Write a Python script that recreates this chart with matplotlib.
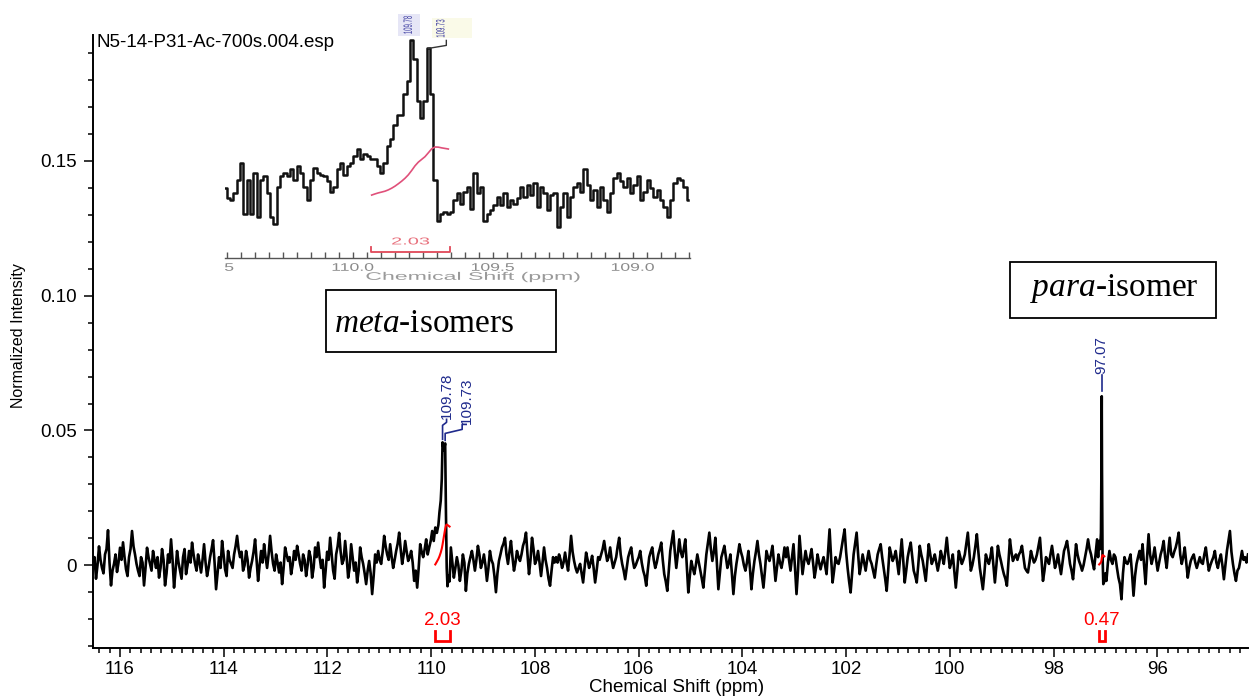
import numpy as np
import matplotlib
matplotlib.use("Agg")
import matplotlib.pyplot as plt
from matplotlib.lines import Line2D
from matplotlib.patches import Rectangle, PathPatch
from matplotlib.textpath import TextPath
from matplotlib.font_manager import FontProperties
from matplotlib.transforms import Affine2D, Bbox, blended_transform_factory
from matplotlib.ticker import MultipleLocator, NullFormatter

plt.rcParams['font.family'] = ['Liberation Sans', 'DejaVu Sans']
plt.rcParams['mathtext.fontset'] = 'custom'
plt.rcParams['mathtext.rm'] = 'Liberation Serif'
plt.rcParams['mathtext.it'] = 'Liberation Serif:italic'

# ---------------- spectrum data (intensity x 1e-3) ----------------
left_span = (116.52, 109.98)
base_left = [
    1.6, 3, -5, 0, 7, 2, -1, -3, 4, 6, 13, 1, -7.5, -2, 0.5, 4, -2.5, 1, 6.5, 2,
    8.5, 3, -1.5, -4, 3, 6, 12.7, 7, 4, 0.5, -2, -4, 3, 1, -7.5, -1, 6.5, 3, 0.5, -2,
    5.3, 2, -1, 3, -4.6, -1, 6, 2, -7.5, -3, 4, 1, 9.6, 2, -8.3, -2, 5.3, 1, -2, -5,
    3, 6, -3.3, 0, 5.3, 1, 8.4, 4, 0.5, -2, 4, 1, -2.7, 2, 7.8, 1, -4, -1, 3, 6,
    9.3, 1, -8.9, -3, 3, -1, 9, 4, -1.5, -4, 5.3, 2, 0.5, -1, 4, 7, 10.9, 6, 3, 5,
    -2, 0, 5.3, 2, -4.6, -1, 1.6, 5, 9.6, 2, -5.8, 0, 5.3, 1, 7.8, 3, -1, 4, 10.9, 5,
    0.5, -2, 4, 1, -2.7, 1, -7, -1, 6.6, 4, 1.6, 3, -3.3, 0, 5.3, 2, 7.2, 4, 0.5, -2,
    4, 2, -4, 0, 5.3, 3, -4.6, -1, 6.6, 3, 8.4, 3, -1, 2, -8.3, -2,
    5, 2, 10.2, 4, -2, -5, 4, 7, 12, 5, 0.5, 2, 9, 3, -4.6, -1, 7.8, 3, -2, 1,
    -6.4, -2, 6.6, 3, 0.5, -3, -7, -2, 1.6, -3, -10.7, -4, 4, 1, 5.3, 2, 0.5, 5, 10.9, 7,
    4, 2, 7.8, 3, -1, 2, 5.3, 8, 12.1, 6, 0.5, 4, 9, 5, 1.6, 3, 5.3, 1, -5.8, -2,
    -8.3, -1, 7.8, 5, 3, 6, 9.6, 4, 6.6, 9, 12.7,
]

meta_ppm = [109.95, 109.92, 109.89, 109.86, 109.84, 109.815, 109.795, 109.78,
            109.755, 109.73, 109.715, 109.70, 109.685, 109.665, 109.645]
meta_int = [9, 14, 12, 15, 19.6, 24, 32, 45.6, 42.5, 45.2, 20, -1, -7.8, -4, -6]

mid_span = (109.62, 97.16)
base_mid = [
    6.6, 1, -4.6, -1, 3, 0, -5.8, -2, 4, 1, -9.5, -3, 0.5, 3, 5.3, 2, -2, 2, 7.2, 4,
    -1, 1, 4, 0, -5.8, -1, 5.3, 2, 0.5, -4, -10, -3, 1.6, 4, 6.6, 8, 10.2, 4, 0.5, 5,
    9, 3, -2, 1, 5.3, 3, 1.6, 4, 7.2, 9, 12.1, 4, -3.3, 2, 10.2, 6, 0.5, 2, 5.3, 1,
    -4, 1, 6.6, 2, -1, -5, -7.6, -2, 3, 1,
    3, 1, 4, 2, -1, 1, 4.7, 1, -2, 4, 10.9, 5, 1.6, -1, -2.7, -1, 0.5, -3, -6.4, -1,
    4.7, 2, -1, 1, 3.5, -1, -6.4, -2, 3, 2, 4, 6, 9, 5, 1.6, 3, 6.6, 2, -1, 1,
    3, 7, 10.2, 4, 0.5, -2, -5.2, -1, 3, 5, 6.6, 2, -1, 0, 1.6, 3, 5.3, 1, -2, -4,
    -7.6, -2, 3, 5, 6.6, 2, -1, 1, 4, 6, 8.4, 2, -3.3, -6, -9.5, -2, 5.3, 9, 12.7, 5,
    -1, 4, 9.6, 5, 3, 6, 9.6, 0, -10.1, -4, 1.6, -1, -3.3, 0, 4, 1, -2, -5, -8.3, -2,
    4, 8, 12.1, 6, 1.6, 5, 10.2, 1, -8.9, -3, 3, 5, 7.2, 3, -1, 1, 4, -3, -10.7, -4,
    0.5, 4, 7.8, 5, 3, 0, -2, 1, 5.3, -1, -8.9, -3, 1.6, 5, 9, 4, 0.5, -4, -8.3, -2,
    5.3, 3, 1.6, 4, 7.2, 1, -5.8, -1, 4, 1, -1, 2, 6.6, 3,
    6.6, 2, -2, 3, 7.8, -1, -10.7, -2, 10.9, 4, -3.3, 1, 5.3, 2, 0.5, 3, 6, 1, -4.6, -1,
    4, 1, -1.5, 1, 3, 0, -3.3, 5, 13.3, 3, -6.4, -2, 3, 1, 0.5, 3, 6.6, 10, 13.3, 5,
    -1, -6, -10.1, -3, 4, 8, 12.1, 4, -3.3, 0, 4, 1, -2, 2, 5.3, 2, 0.5, -2, -4.6, 0,
    4, 6, 7.8, 3, -1, -5, -9.5, -2, 6.6, 4, 1.6, 3, 5.3, 1, -3.3, 3, 9.6, 2, -6.4, -2,
    3, 6, 8.4, 3, -2, -4, -6.4, 0, 7.2, 4, 1.6, -2, -5.8, 1, 7.8, 4, 0.5, 2, 4, 1,
    -2, 1, 5.3, 3, 0.5, 5, 10.2, 4, -1, 1, 4, -2, -8.3, -2, 5.3, 3, 0.5, 2, 4, 8,
    12.1, 5, -2, 0, 3, 7, 11.5, 5, -1, -5, -8.9, -3, 4, 2, 0.5, 3, 6.6, 0, -6.4, 0,
    7.2, 4, 1.6, -1, -3.3, -5, -7.6, 1, 9.6, 5, 1.6, 3, 4, 2,
    4, 5, 7.2, 3, -1, -2, -2.7, 1, 5.3, 3, 1, 2, 4, 7, 10.2, 2, -5.8, -2, 3, 2,
    0.5, 4, 7.2, 3, -1, 1, 4, 0, -3.3, 1, 5.3, 7, 9, 5, 0.5, -2, -5.2, 1, 7.8, 4,
    1.6, 0, -2, 0, 3, 6, 9.6, 6, 4, 1, -1.5, 4, 9.6,
]

para_ppm = [97.14, 97.12, 97.10, 97.085, 97.075, 97.07, 97.065, 97.055, 97.04, 97.02, 97.00]
para_int = [3, 9, 6, 12, 40, 62.7, 35, 4, -7, -6, -3]

right_span = (96.98, 94.25)
base_right = [
    -5.8, 1, 5.3, 2, 0.5, 4, 3, -1, -4.6, -7, -12.6, -3, 3, 1, 0.5, 2, 4, -3, -11.3, -4,
    0.5, 3, 5.3, 2, 7.8, 0, -7, 3, 11.5, 4, 0.5, 3, 6.6, 2, -2, 1, 4, 6, 9, 3,
    -1, 5, 10.2, 4, 3, 5, 6.6, 9, 12.1, 4, 0.5, 3, 6.6, 1, -4.6, -1, 1.6, 3, 4, 1,
    -1, 1, 3, 1, 0.5, 4, 6.6, 2, -2, 0, 1.6, 3, 5.3, 1, -1, 2, 4, 0, -5.2, 0,
    5.3, 9, 12.7, 5, 0.5, -3, -5.8, -2, -1, 2, 5.3, 2, 3, 1, 4,
]

peak_shifts = [109.78, 109.73, 97.07]
integral_values = [2.03, 0.47]
integral_ranges = [(109.93, 109.64), (97.13, 97.01)]

# expanded view of the meta region (intensity x 1e-3)
inset_span = (110.457, 108.802)
inset_int = [
    2, -1, -1.5, 0.5, 4.5, 9.5, -5.5, 4.5, -5.5, 6.5,
    -6.5, 4.5, 5.5, 0.5, -6.5, -8.5, 2.5, 5.5, 6.5, 5.5,
    7.5, 4.5, 8.5, 6.5, 2.5, -1.5, 4.5, 8, 6.5, 6,
    5.5, 4, 1, 2.5, 7.5, 9.5, 6, 8.5, 9.5, 11.5,
    13.5, 10.5, 12, 11.5, 10.5, 10.5, 8.5, 6.5, 9.5, 14.5,
    16.5, 20.5, 23.5, 23.5, 29.5, 33.5, 45.5, 40, 27.5, 22.5,
    27.5, 43, 29.5, 4.5, -7.5, -5.5, -5, -5.5, -5, -1.5,
    0.5, -2.5, 1, 2.5, -4, 6.5, 0.5, 2.5, -7.5, -5.5,
    -4.5, -3, -0.5, -3, 0.5, -3.5, -1.5, -2.5, -1, 2.5,
    -0.5, 3, 0, 3.5, -3.5, 2.5, 0.5, -4.5, 0, 0.5,
    -9.5, -3.5, 0.5, -6.5, -0.5, 2.5, 3.5, 1, 7.5, 3,
    -1.5, 1.5, -3.5, 2.5, -1.5, -5, 0.5, 5, 6.5, 4,
    2.5, 5, 0.5, 3, 5.5, -1.5, 1, 4.5, 2, -0.5,
    1.5, -1.5, -3.5, -6.5, -1.5, 3.5, 5, 4.5, 2.5, -1.5,
]
inset_ticks = [110.5, 110.0, 109.5, 109.0]

# ---------------- figure ----------------
W, H = 1249, 698
NAVY = '#1f2a8c'
RED = '#ff0000'

fig = plt.figure(figsize=(W / 100, H / 100), dpi=100)
fig.patch.set_facecolor('white')

ax = fig.add_axes([93 / W, 50 / H, 1155 / W, 613 / H])
ax.set_xlim(116.52, 94.25)
ax.set_ylim(-0.0307, 0.1967)

ppm = np.concatenate([np.linspace(*left_span, len(base_left)), meta_ppm,
                      np.linspace(*mid_span, len(base_mid)), para_ppm,
                      np.linspace(*right_span, len(base_right))])
inten = np.concatenate([base_left, meta_int, base_mid, para_int, base_right]) * 1e-3
ax.plot(ppm, inten, color='black', lw=1.9)

for s in ('top', 'right'):
    ax.spines[s].set_visible(False)
for s in ('left', 'bottom'):
    ax.spines[s].set_linewidth(1.4)

ax.set_yticks([0, 0.05, 0.10, 0.15])
ax.set_yticklabels(['0', '0.05', '0.10', '0.15'])
ax.yaxis.set_minor_locator(MultipleLocator(0.01))
ax.set_xticks(np.arange(96, 117, 2))
ax.set_xticklabels([str(v) for v in range(96, 117, 2)])
ax.xaxis.set_minor_locator(MultipleLocator(0.2))
ax.tick_params(axis='both', which='major', length=6.5, width=1.1, labelsize=13.5)
ax.tick_params(axis='both', which='minor', length=3.8, width=1.1)
ax.tick_params(axis='y', pad=5)
ax.tick_params(axis='x', pad=3)

fig.text(677 / W, 1 - 688 / H, 'Chemical Shift (ppm)', fontsize=13.5,
         ha='center', va='center')
fig.text(19 / W, 1 - 336 / H, 'Normalized Intensity', fontsize=11.5, rotation=90,
         ha='center', va='center')
fig.text(96 / W, 1 - 47 / H, 'N5-14-P31-Ac-700s.004.esp', fontsize=13.5, va='baseline')

# integral curves, brackets and values
scale = 0.0148 / integral_values[0]


def integral_curve(x, y, rng, height):
    hi, lo = rng
    m = (x <= hi) & (x >= lo)
    xs, ys = x[m], y[m]
    area = np.concatenate([[0], np.cumsum(0.5 * (ys[1:] + ys[:-1]) * np.abs(np.diff(xs)))])
    return xs, area / area.max() * height


for val, rng in zip(integral_values, integral_ranges):
    xs, cv = integral_curve(ppm, inten, rng, val * scale)
    ax.plot(xs, cv + 0.0003, color=RED, lw=1.5)
    hi, lo = rng
    ax.plot([hi, hi, lo, lo], [-0.0244, -0.0282, -0.0282, -0.0244], color=RED, lw=2.0,
            solid_joinstyle='miter')
    ax.text((hi + lo) / 2, -0.0205, f'{val:.2f}', color=RED, fontsize=13.5,
            ha='center', va='center')


def leader(axis, anchor, offsets, color, lw=1.2):
    x0, y0 = axis.transData.transform(anchor)
    pts = np.array([(x0 + dx, y0 + dy) for dx, dy in offsets])
    f = fig.transFigure.inverted().transform(pts)
    fig.add_artist(Line2D(f[:, 0], f[:, 1], color=color, lw=lw, transform=fig.transFigure))


def peak_top(shift):
    m = np.abs(ppm - shift) < 0.012
    return inten[m].max()


# peak labels on the main spectrum
t1 = peak_top(peak_shifts[0])
t2 = peak_top(peak_shifts[1])
t3 = peak_top(peak_shifts[2])
leader(ax, (peak_shifts[0], t1), [(0, 3), (0, 17), (4, 20), (4, 23)], NAVY)
leader(ax, (peak_shifts[1], t2), [(0, 3), (0, 10), (17, 14), (17, 19), (21, 19)], NAVY)
ax.annotate(f'{peak_shifts[0]:.2f}', (peak_shifts[0], t1), xytext=(4, 23),
            textcoords='offset pixels', rotation=90, ha='center', va='bottom',
            color=NAVY, fontsize=11)
ax.annotate(f'{peak_shifts[1]:.2f}', (peak_shifts[1], t2), xytext=(22, 19),
            textcoords='offset pixels', rotation=90, ha='center', va='bottom',
            color=NAVY, fontsize=11)
leader(ax, (peak_shifts[2], t3), [(0, 5), (0, 21)], NAVY)
ax.annotate(f'{peak_shifts[2]:.2f}', (peak_shifts[2], t3), xytext=(0, 22),
            textcoords='offset pixels', rotation=90, ha='center', va='bottom',
            color=NAVY, fontsize=11)

# isomer boxes
for (x0, y0, x1, y1), txt, tx, ty in [((326, 290, 556, 352), r'$\mathit{meta}$-isomers', 334, 331.5),
                                      ((1010, 262, 1216, 318), r'$\mathit{para}$-isomer', 1030, 296)]:
    fig.add_artist(Rectangle((x0 / W, 1 - y1 / H), (x1 - x0) / W, (y1 - y0) / H,
                             transform=fig.transFigure, fc='white', ec='black', lw=1.3))
    fig.text(tx / W, 1 - ty / H, txt, fontsize=24, family='Liberation Serif', va='baseline')


# ---------------- expanded view ----------------
def path_text(x_px, y_px, s, size, sx=1.0, sy=1.0, rot=0, color='k', alpha=1.0, clip=None):
    tp = TextPath((0, 0), s, size=size, prop=FontProperties(family='Liberation Sans'))
    bb = tp.get_extents()
    tr = (Affine2D().translate(-(bb.x0 + bb.x1) / 2, -(bb.y0 + bb.y1) / 2)
          .scale(sx, sy).rotate_deg(rot).translate(x_px, H - y_px)
          .scale(1 / W, 1 / H) + fig.transFigure)
    p = PathPatch(tp, transform=tr, fc=color, ec='none', alpha=alpha)
    if clip is not None:
        p.set_clip_box(clip)
    fig.add_artist(p)


axi = fig.add_axes([225 / W, (H - 258) / H, 465 / W, 228 / H])
axi.set_facecolor('none')
axi.set_xlim(110.457, 108.796)
axi.set_ylim(-0.01845, 0.0484)
ippm = np.linspace(*inset_span, len(inset_int))
iint = np.array(inset_int) * 1e-3
axi.plot(ippm, iint, color='#111111', lw=1.8, drawstyle='steps-mid')
for s in ('top', 'right', 'left'):
    axi.spines[s].set_visible(False)
axi.spines['bottom'].set_color('#555555')
axi.spines['bottom'].set_linewidth(1.0)
axi.set_yticks([])
axi.xaxis.set_major_locator(MultipleLocator(0.5))
axi.xaxis.set_minor_locator(MultipleLocator(0.05))
axi.xaxis.set_major_formatter(NullFormatter())
axi.tick_params(axis='x', which='both', direction='in', length=4, width=1.0, color='#555555')

clip_box = Bbox.from_extents(225, 0, 690, H)
for t in inset_ticks:
    xp = axi.transData.transform((t, 0))[0]
    path_text(xp, 267, f'{t:.1f}', 11, sx=1.6, color='#8a8a8a', clip=clip_box)
path_text(473, 277, 'Chemical Shift (ppm)', 11, sx=2.1, color='#9a9a9a')

# integral of the expanded region
ihi, ilo = 109.935, 109.653
xs, cv = integral_curve(ippm, iint, (ihi, ilo), 0.0141)
axi.plot(xs, cv, color='#e0507a', lw=1.2)
bt = blended_transform_factory(axi.transData, fig.transFigure)
axi.add_line(Line2D([ihi, ihi, ilo, ilo], [1 - 247 / H, 1 - 252 / H, 1 - 252 / H, 1 - 247 / H],
                    color='#e04858', lw=1.3, transform=bt, clip_on=False))
xc = axi.transData.transform(((ihi + ilo) / 2, 0))[0]
path_text(xc, 241, f'{integral_values[0]:.2f}', 10, sx=2.0, color='#e8707c')

# peak labels of the expanded region
k1 = int(np.argmax(np.where(np.abs(ippm - peak_shifts[0]) < 0.02, iint, -1)))
k2 = int(np.argmax(np.where(np.abs(ippm - peak_shifts[1]) < 0.02, iint, -1)))
x1p, y1p = axi.transData.transform((ippm[k1], iint[k1]))
x2p, y2p = axi.transData.transform((ippm[k2], iint[k2]))
fig.add_artist(Rectangle(((x1p - 14) / W, (y1p + 4) / H), 22 / W, 22 / H,
                         transform=fig.transFigure, fc='#e6e6f6', ec='none'))
fig.add_artist(Rectangle(((x2p + 4) / W, (y2p + 10) / H), 40 / W, 20 / H,
                         transform=fig.transFigure, fc='#fafae8', ec='none'))
path_text(x1p - 4, H - (y1p + 15), f'{peak_shifts[0]:.2f}', 12, sx=0.5, rot=90, color='#3a3aa0')
path_text(x2p + 12, H - (y2p + 20), f'{peak_shifts[1]:.2f}', 12, sx=0.5, rot=90, color='#3a3aa0')
leader(axi, (ippm[k2], iint[k2]), [(0, 0), (18, 3), (18, 8)], '#333333', lw=1.0)

fig.savefig('out.png', dpi=100, facecolor='white')
